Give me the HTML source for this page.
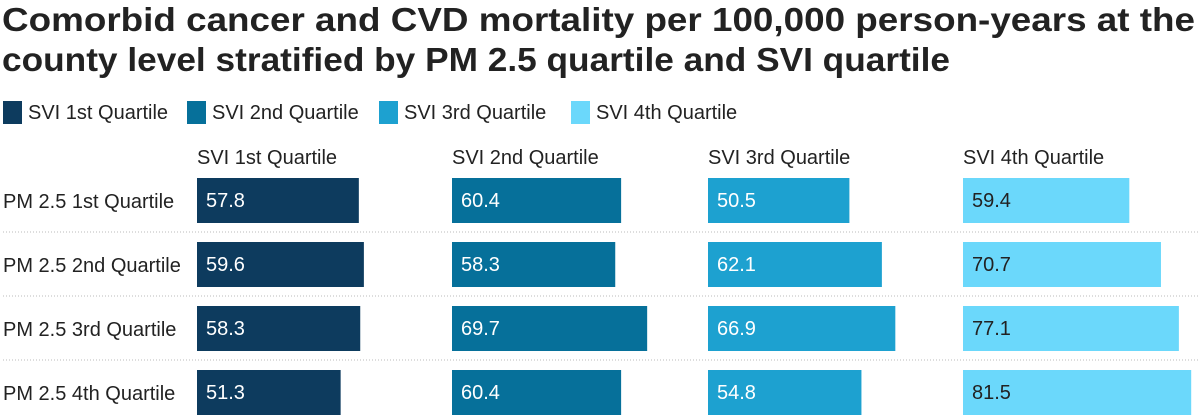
<!DOCTYPE html>
<html><head><meta charset="utf-8"><style>
body{margin:0;width:1200px;height:418px;background:#fff;overflow:hidden;font-family:"Liberation Sans",sans-serif}
svg{display:block}
</style></head><body>
<svg id="c" width="1200" height="418">
<text x="2" y="31" font-size="33" font-weight="bold" fill="#222" textLength="1193" lengthAdjust="spacingAndGlyphs">Comorbid cancer and CVD mortality per 100,000 person-years at the</text>
<text x="2" y="71" font-size="33" font-weight="bold" fill="#222" textLength="948" lengthAdjust="spacingAndGlyphs">county level stratified by PM 2.5 quartile and SVI quartile</text>
<g id="legend"></g>
<g id="plot"></g>
</svg>
<script>
const series = ["SVI 1st Quartile","SVI 2nd Quartile","SVI 3rd Quartile","SVI 4th Quartile"];
const rows = ["PM 2.5 1st Quartile","PM 2.5 2nd Quartile","PM 2.5 3rd Quartile","PM 2.5 4th Quartile"];
const svi1 = [57.8,59.6,58.3,51.3];
const svi2 = [60.4,58.3,69.7,60.4];
const svi3 = [50.5,62.1,66.9,54.8];
const svi4 = [59.4,70.7,77.1,81.5];
const colors = ["#0d3b5e","#06709a","#1da1d0","#6bd8fb"];
const textColors = ["#fff","#fff","#fff","#222"];
const NS="http://www.w3.org/2000/svg";
function mk(t,a,p){const e=document.createElementNS(NS,t);for(const k in a)e.setAttribute(k,a[k]);p.appendChild(e);return e;}
const data=[svi1,svi2,svi3,svi4];
const colX=[197,452,708,963];
const xs=v=>v*2.8;
const rowY=i=>178+i*64;
const legend=document.getElementById('legend');
const legX=[3,187,379,571];
series.forEach((s,i)=>{
  const r=mk('rect',{x:legX[i],y:101,width:19,height:23,fill:colors[i]},legend);
  
  
  const t=mk('text',{x:legX[i]+25,y:119,'font-size':20,fill:'#222'},legend);
  t.textContent=s;
  
  
});
const plot=document.getElementById('plot');
series.forEach((s,j)=>{
  const t=mk('text',{x:colX[j],y:164,'font-size':20,fill:'#222'},plot);
  t.textContent=s;
  
  
});
rows.forEach((r,i)=>{
  const y=rowY(i);
  const t=mk('text',{x:3,y:y+30,'font-size':20,fill:'#222'},plot);
  t.textContent=r;
  
  
  if(i<rows.length-1){
    const l=mk('line',{x1:3,x2:1200,y1:y+54,y2:y+54,stroke:'#bbb','stroke-dasharray':'1,2'},plot);
    
    
  }
  data.forEach((arr,j)=>{
    const b=mk('rect',{x:colX[j],y:y,width:xs(arr[i]),height:45,fill:colors[j]},plot);
    
    
    const v=mk('text',{x:colX[j]+9,y:y+29,'font-size':20,fill:textColors[j]},plot);
    v.textContent=arr[i].toFixed(1);
    
    
  });
});
</script>
</body></html>
